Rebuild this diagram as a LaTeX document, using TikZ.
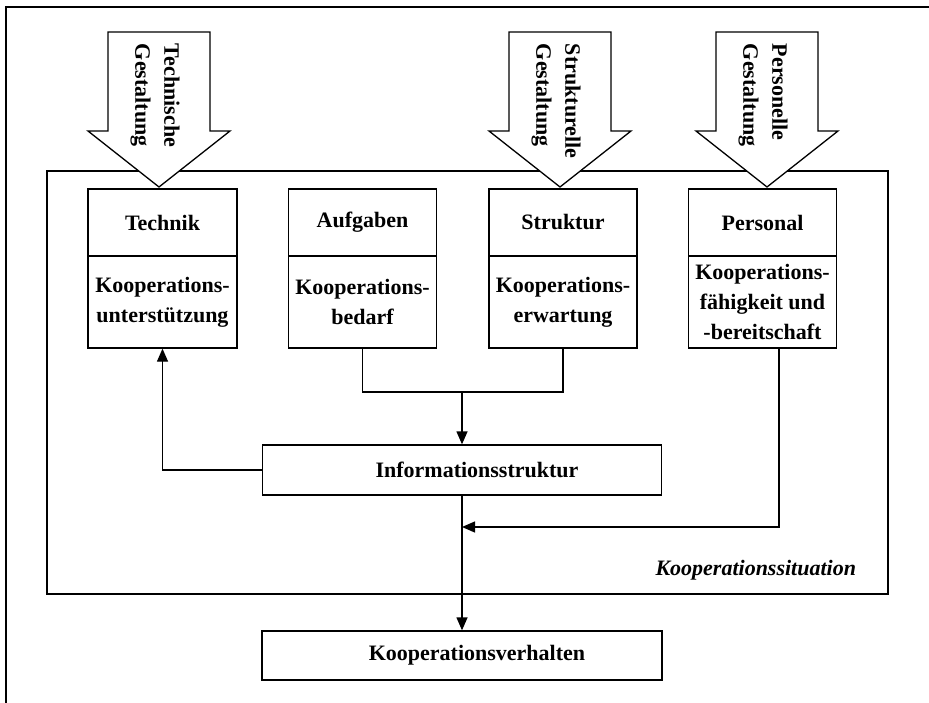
\documentclass[tikz,border=0pt]{standalone}
\usepackage{fontspec}
\setmainfont{Liberation Serif}
\usetikzlibrary{arrows.meta,positioning}

\begin{document}
\begin{tikzpicture}[x=1pt,y=-1pt,line width=1.3pt,
	kbox/.style={draw, fill=white, inner sep=0pt, align=center, font=\fontsize{22}{30}\selectfont\bfseries},
	pfeil/.style={-{Triangle[length=13pt,width=11pt]}},
	blockpfeil/.style={draw, fill=white, line join=miter},
	schrift/.style={rotate=-90, anchor=west, align=left, font=\fontsize{22}{29}\selectfont\bfseries}]
	\useasboundingbox (0,0) rectangle (929,703);
	% aeusserer Rahmen
	\draw[line width=1.1pt] (6,710) -- (6,7) -- (935,7);
	% Kooperationssituation
	\draw (47,171) rectangle (888,594);
	\node[anchor=east, font=\fontsize{22}{26}\selectfont\bfseries\itshape] (situation) at (860,570) {Kooperationssituation};
	% Gestaltungspfeile
	\draw[blockpfeil] (108,32) -- (210,32) -- (210,131) -- (230,131) -- (159,187) -- (88,131) -- (108,131) -- cycle;
	\draw[blockpfeil] (509,32) -- (611,32) -- (611,131) -- (631,131) -- (560,187) -- (489,131) -- (509,131) -- cycle;
	\draw[blockpfeil] (716,32) -- (818,32) -- (818,131) -- (838,131) -- (767,187) -- (696,131) -- (716,131) -- cycle;
	\node[schrift] (technisch) at (155,40) {Technische\\Gestaltung};
	\node[schrift] (strukturell) at (556,40) {Strukturelle\\Gestaltung};
	\node[schrift] (personell) at (763,40) {Personelle\\Gestaltung};
	% Kaesten
	\node[kbox, minimum width=149pt, minimum height=67pt] (technikkopf) at (162.5,222.5) {Technik};
	\node[kbox, minimum width=149pt, minimum height=92pt] (technikrumpf) at (162.5,302) {Kooperations-\\unterstützung};
	\node[kbox, minimum width=148pt, minimum height=67pt] (aufgabenkopf) at (362.5,222.5) {Aufgaben};
	\node[kbox, minimum width=148pt, minimum height=92pt] (aufgabenrumpf) at (362.5,302) {Kooperations-\\bedarf};
	\node[kbox, minimum width=148pt, minimum height=67pt] (strukturkopf) at (563,222.5) {Struktur};
	\node[kbox, minimum width=148pt, minimum height=92pt] (strukturrumpf) at (563,302) {Kooperations-\\erwartung};
	\node[kbox, minimum width=148pt, minimum height=67pt] (personalkopf) at (762.5,222.5) {Personal};
	\node[kbox, minimum width=148pt, minimum height=92pt] (personalrumpf) at (762.5,302) {Kooperations-\\fähigkeit und\\-bereitschaft};
	\node[kbox, minimum width=399pt, minimum height=50pt] (info) at (462,470) {\hspace*{30pt}Informationsstruktur};
	\node[kbox, minimum width=400pt, minimum height=49pt] (verhalten) at (462,655.5) {\hspace*{30pt}Kooperationsverhalten};
	% Verbindungen
	\coordinate (verzweig) at (462,392);
	\coordinate (personalfuss) at ([xshift=16.5pt]personalrumpf.south);
	\coordinate (einmuendung) at (462,527);
	\draw (aufgabenrumpf.south) |- (verzweig) -| (strukturrumpf.south);
	\draw[pfeil] (verzweig) -- (info.north);
	\draw[pfeil] (info.west) -| (technikrumpf.south);
	\draw[pfeil] (info.south) -- (verhalten.north);
	\draw[pfeil] (personalfuss) |- (einmuendung);
\end{tikzpicture}
\end{document}
